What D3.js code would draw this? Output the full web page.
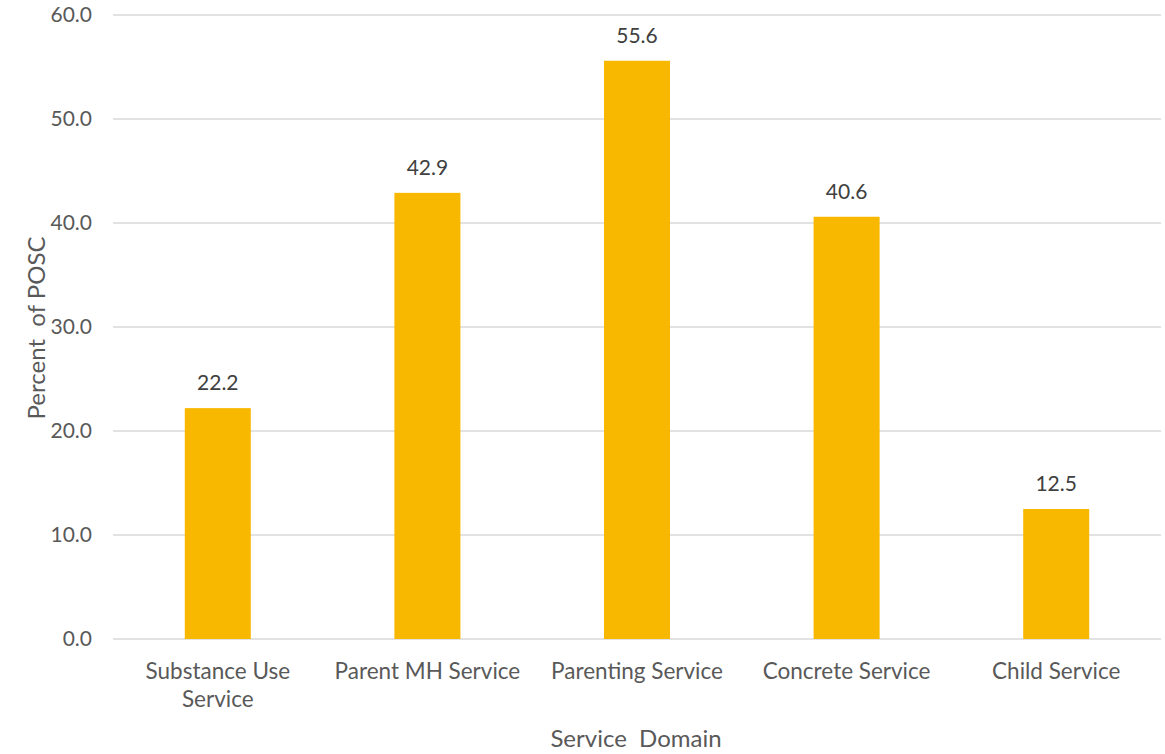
<!DOCTYPE html>
<html>
<head>
<meta charset="utf-8">
<script src="https://cdn.jsdelivr.net/npm/d3@7"></script>
<style>
  body { margin: 0; background: #fff; }
  svg { display: block; }
  text { font-family: "Lato", "Open Sans", sans-serif; }
</style>
</head>
<body>
<svg id="chart" width="1165" height="754"></svg>
<script>
const categories = [["Substance Use", "Service"], ["Parent MH Service"], ["Parenting Service"], ["Concrete Service"], ["Child Service"]];
const values = [22.2, 42.9, 55.6, 40.6, 12.5];
const yTicks = [0, 10, 20, 30, 40, 50, 60];
const xTitle = "Service  Domain";
const yTitle = "Percent  of POSC";

const svg = d3.select("#chart");
const plotLeft = 113, plotRight = 1161, plotTop = 15, plotBottom = 639;

const keys = categories.map((c, i) => i);
const x = d3.scaleBand().domain(keys).range([plotLeft, plotRight]).paddingInner(0.685).paddingOuter(0.3425);
const y = d3.scaleLinear().domain([0, 60]).range([plotBottom, plotTop]);

// gridlines
svg.append("g").selectAll("line").data(yTicks).join("line")
  .attr("x1", plotLeft).attr("x2", plotRight)
  .attr("y1", d => y(d)).attr("y2", d => y(d))
  .attr("stroke", "#d9d9d9").attr("stroke-width", 1.3);

// y tick labels
svg.append("g").selectAll("text").data(yTicks).join("text")
  .attr("x", 92).attr("y", d => y(d) + 7)
  .attr("text-anchor", "end").attr("font-size", 21).attr("fill", "#595959")
  .text(d => d.toFixed(1));

// bars
svg.append("g").selectAll("rect").data(values).join("rect")
  .attr("x", (d, i) => x(i)).attr("width", x.bandwidth())
  .attr("y", d => y(d)).attr("height", d => y(0) - y(d))
  .attr("fill", "#F9B800");

// value labels
svg.append("g").selectAll("text").data(values).join("text")
  .attr("x", (d, i) => x(i) + x.bandwidth() / 2).attr("y", d => y(d) - 18)
  .attr("text-anchor", "middle").attr("font-size", 21).attr("fill", "#404040")
  .text(d => d.toFixed(1));

// category labels
const cat = svg.append("g").selectAll("text").data(categories).join("text")
  .attr("text-anchor", "middle").attr("font-size", 22.5).attr("fill", "#595959");
cat.each(function(lines, i) {
  const t = d3.select(this);
  lines.forEach((ln, j) => {
    t.append("tspan").attr("x", x(i) + x.bandwidth() / 2).attr("y", 679 + j * 28).text(ln);
  });
});

// axis titles
svg.append("text").attr("x", 636).attr("y", 747)
  .attr("text-anchor", "middle").attr("font-size", 24).attr("fill", "#595959")
  .attr("xml:space", "preserve").style("white-space", "pre").text(xTitle);
svg.append("text").attr("transform", "translate(45,328) rotate(-90)")
  .attr("text-anchor", "middle").attr("font-size", 24).attr("fill", "#595959")
  .attr("xml:space", "preserve").style("white-space", "pre").text(yTitle);
</script>
</body>
</html>
